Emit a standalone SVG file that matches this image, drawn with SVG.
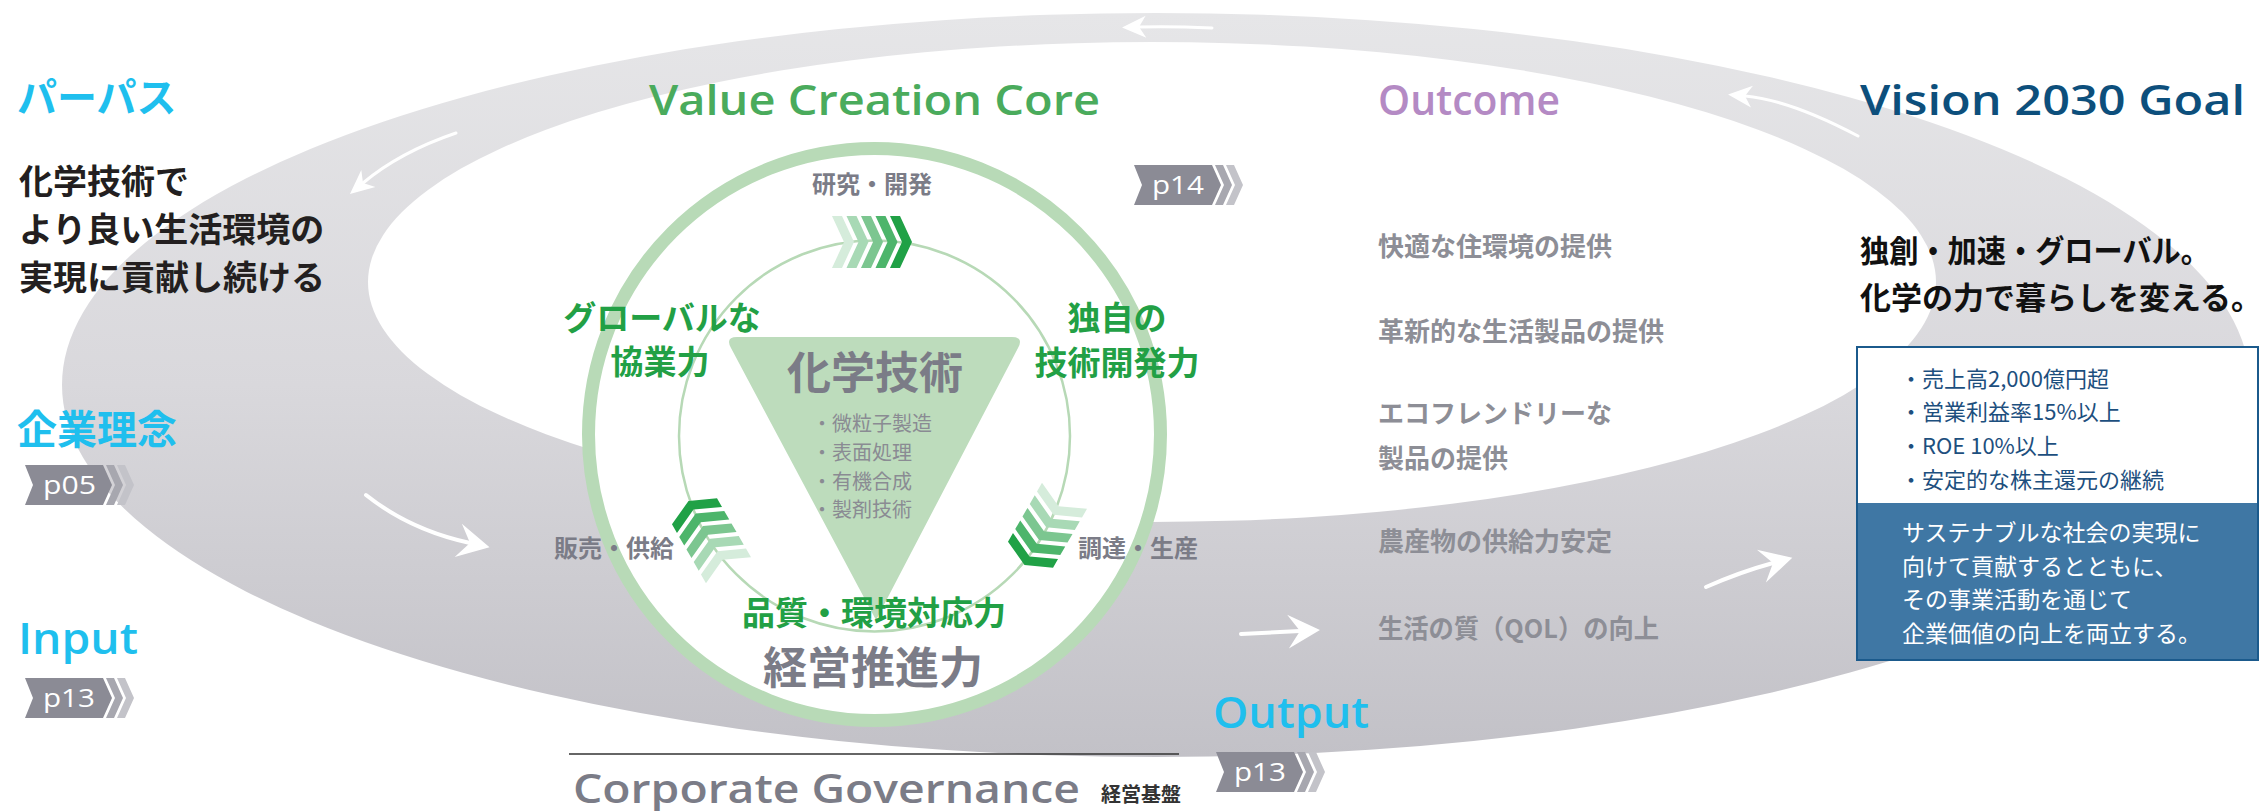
<svg xmlns="http://www.w3.org/2000/svg" width="2260" height="811" viewBox="0 0 2260 811">
<style>
.jp{font-family:"Noto Sans CJK JP","Noto Sans",sans-serif;}
.b{font-weight:700;}
.ttl{font-family:"Open Sans","Noto Sans",sans-serif;font-weight:600;}
.cyan{fill:#1fbfee;}
.grn{fill:#22a045;}
.gry{fill:#7b7c87;}
.out{fill:#8d8e96;font-size:26px;}
.bul{fill:#8a8b93;font-size:20px;}
.pg{font-family:"Open Sans","Noto Sans",sans-serif;font-size:26px;fill:#fff;}
.bb{fill:#8b8b95;}
.b1{fill:#a7a7af;}
.b2{fill:#c3c3c9;}
.arr{fill:none;stroke:#fff;stroke-linecap:round;}
.kpi{fill:#1d4f7e;font-size:22px;}
.wt{fill:#fff;font-size:23px;}
</style>
<defs>
<linearGradient id="ringGrad" x1="0" y1="14" x2="0" y2="757" gradientUnits="userSpaceOnUse">
<stop offset="0" stop-color="#e6e6e8"/>
<stop offset="0.5" stop-color="#d9d8dc"/>
<stop offset="1" stop-color="#c2c1c7"/>
</linearGradient>
<marker id="headS" markerUnits="userSpaceOnUse" viewBox="-10 -13 30 26" markerWidth="30" markerHeight="26" refX="0" refY="0" orient="auto">
<path d="M17,0 L-7,-11 L0,0 L-7,11 Z" fill="#fff"/>
</marker>
<marker id="headL" markerUnits="userSpaceOnUse" viewBox="-14 -19 38 38" markerWidth="38" markerHeight="38" refX="0" refY="0" orient="auto">
<path d="M20,0 L-12,-17 L0,0 L-12,17 Z" fill="#fff"/>
</marker>
<g id="badge">
<path class="bb" d="M0,0 H78 L87,20 L78,40 H0 L8,20 Z"/>
<path class="b1" d="M81,0 H89 L98,20 L89,40 H81 L90,20 Z"/>
<path class="b2" d="M92,0 H100 L109,20 L100,40 H92 L101,20 Z"/>
</g>
<g id="chev">
<path fill="#d5ecdb" d="M0,-26 h10 l12,26 l-12,26 h-10 l12,-26 z"/>
<path fill="#a8d9b5" d="M14.5,-26 h10 l12,26 l-12,26 h-10 l12,-26 z"/>
<path fill="#7cc690" d="M29,-26 h10 l12,26 l-12,26 h-10 l12,-26 z"/>
<path fill="#4db56b" d="M43.5,-26 h10 l12,26 l-12,26 h-10 l12,-26 z"/>
<path fill="#20a146" d="M58,-26 h10 l12,26 l-12,26 h-10 l12,-26 z"/>
</g>
</defs>

<g id="ring">
<path fill="url(#ringGrad)" fill-rule="evenodd" d="M62,385 A1094,372 0 1,0 2250,385 A1094,372 0 1,0 62,385 Z M368,282 A784,240 0 1,0 1936,282 A784,240 0 1,0 368,282 Z"/>
</g>

<g id="connectors">
<path class="arr" stroke-width="3" d="M1212,28 Q1170,26 1139,27" marker-end="url(#headS)"/>
<path class="arr" stroke-width="3" d="M456,133 Q400,152 363,183" marker-end="url(#headS)"/>
<path class="arr" stroke-width="4" d="M366,495 Q410,530 470,543" marker-end="url(#headL)"/>
<path class="arr" stroke-width="3" d="M1858,136 Q1790,100 1745,96" marker-end="url(#headS)"/>
<path class="arr" stroke-width="4" d="M1241,634 L1300,631" marker-end="url(#headL)"/>
<path class="arr" stroke-width="4" d="M1706,587 Q1740,572 1773,563" marker-end="url(#headL)"/>
</g>

<g id="purpose">
<text class="jp b cyan" x="17" y="112" font-size="40">パーパス</text>
<text class="jp b" fill="#231f20" font-size="34" x="19" y="194">化学技術で</text>
<text class="jp b" fill="#231f20" font-size="34" x="19" y="242">より良い生活環境の</text>
<text class="jp b" fill="#231f20" font-size="34" x="19" y="290">実現に貢献し続ける</text>
</g>

<g id="philosophy">
<text class="jp b cyan" x="17" y="444" font-size="40">企業理念</text>
<use href="#badge" x="25" y="465"/>
<text class="pg" x="43" y="494" textLength="53" lengthAdjust="spacingAndGlyphs">p05</text>
</g>

<g id="input">
<text class="ttl cyan" x="18" y="654" font-size="44" textLength="120" lengthAdjust="spacingAndGlyphs">Input</text>
<use href="#badge" x="25" y="678"/>
<text class="pg" x="43" y="707" textLength="52" lengthAdjust="spacingAndGlyphs">p13</text>
</g>

<g id="core">
<text class="ttl" fill="#4aab5c" x="649" y="115" font-size="42" textLength="451" lengthAdjust="spacingAndGlyphs">Value Creation Core</text>
<circle cx="874.5" cy="434.5" r="286" fill="#fff" stroke="#b8dab7" stroke-width="13"/>
<circle cx="874.5" cy="436" r="195.5" fill="none" stroke="#b7d9b6" stroke-width="2.5"/>
<path fill="#bddcbc" d="M737,337 L1012,337 Q1024,337 1018,348 L876,620 L731,348 Q725,337 737,337 Z"/>
<text class="jp b gry" x="875" y="389" font-size="44" text-anchor="middle">化学技術</text>
<text class="jp bul" x="812" y="431">・微粒子製造</text>
<text class="jp bul" x="812" y="460">・表面処理</text>
<text class="jp bul" x="812" y="489">・有機合成</text>
<text class="jp bul" x="812" y="517">・製剤技術</text>
<use href="#chev" transform="translate(832,242)"/>
<use href="#chev" transform="rotate(120 875 436) translate(832,242)"/>
<use href="#chev" transform="rotate(240 875 436) translate(832,242)"/>
<text class="jp b gry" x="872" y="193" font-size="24" text-anchor="middle">研究・開発</text>
<text class="jp b gry" x="674" y="557" font-size="24" text-anchor="end">販売・供給</text>
<text class="jp b gry" x="1078" y="557" font-size="24">調達・生産</text>
<text class="jp b grn" x="662" y="330" font-size="33" text-anchor="middle">グローバルな</text>
<text class="jp b grn" x="660" y="374" font-size="33" text-anchor="middle">協業力</text>
<text class="jp b grn" x="1117" y="330" font-size="33" text-anchor="middle">独自の</text>
<text class="jp b grn" x="1117" y="375" font-size="33" text-anchor="middle">技術開発力</text>
<text class="jp b grn" x="874" y="625" font-size="33" text-anchor="middle">品質・環境対応力</text>
<text class="jp b gry" x="873" y="684" font-size="44" text-anchor="middle">経営推進力</text>
<use href="#badge" x="1134" y="165"/>
<text class="pg" x="1152" y="194" textLength="52" lengthAdjust="spacingAndGlyphs">p14</text>
</g>

<g id="governance">
<line x1="569" y1="754" x2="1179" y2="754" stroke="#333" stroke-width="1.5"/>
<text class="ttl gry" x="573" y="803" font-size="40" textLength="507" lengthAdjust="spacingAndGlyphs">Corporate Governance</text>
<text class="jp b" fill="#333" x="1101" y="802" font-size="20">経営基盤</text>
</g>

<g id="output">
<text class="ttl cyan" x="1213" y="728" font-size="44" textLength="156" lengthAdjust="spacingAndGlyphs">Output</text>
<use href="#badge" x="1216" y="752"/>
<text class="pg" x="1234" y="781" textLength="52" lengthAdjust="spacingAndGlyphs">p13</text>
</g>

<g id="outcome">
<text class="ttl" fill="#b48ac4" x="1378" y="115" font-size="42" textLength="182" lengthAdjust="spacingAndGlyphs">Outcome</text>
<text class="jp b out" x="1378" y="256">快適な住環境の提供</text>
<text class="jp b out" x="1378" y="341">革新的な生活製品の提供</text>
<text class="jp b out" x="1378" y="423">エコフレンドリーな</text>
<text class="jp b out" x="1378" y="468">製品の提供</text>
<text class="jp b out" x="1378" y="551">農産物の供給力安定</text>
<text class="jp b out" x="1378" y="638" textLength="281" lengthAdjust="spacingAndGlyphs">生活の質（QOL）の向上</text>
</g>

<g id="vision">
<text class="ttl" fill="#0d4f7c" x="1860" y="115" font-size="42" textLength="385" lengthAdjust="spacingAndGlyphs">Vision 2030 Goal</text>
<text class="jp b" fill="#111" x="1860" y="262" font-size="31" textLength="350" lengthAdjust="spacingAndGlyphs">独創・加速・グローバル。</text>
<text class="jp b" fill="#111" x="1860" y="309" font-size="31">化学の力で暮らしを変える。</text>
<rect x="1857" y="347" width="401" height="313" fill="#fff" stroke="#1b5a8c" stroke-width="2"/>
<rect x="1858" y="503" width="399" height="156" fill="#3f77a4"/>
<text class="jp kpi" x="1900" y="387">・売上高2,000億円超</text>
<text class="jp kpi" x="1900" y="420">・営業利益率15%以上</text>
<text class="jp kpi" x="1900" y="454">・ROE 10%以上</text>
<text class="jp kpi" x="1900" y="488">・安定的な株主還元の継続</text>
<text class="jp wt" x="1902" y="541">サステナブルな社会の実現に</text>
<text class="jp wt" x="1902" y="575">向けて貢献するとともに、</text>
<text class="jp wt" x="1902" y="608">その事業活動を通じて</text>
<text class="jp wt" x="1902" y="642">企業価値の向上を両立する。</text>
</g>
</svg>
